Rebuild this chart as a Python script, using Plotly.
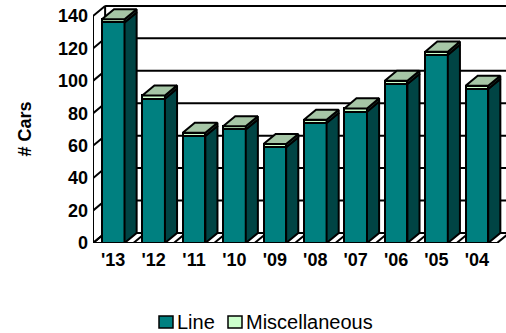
import plotly.graph_objects as go

# ---- data ----
years = ["'13", "'12", "'11", "'10", "'09", "'08", "'07", "'06", "'05", "'04"]
line_vals = [136, 89, 66, 70, 59, 74, 81, 98, 116, 95]
misc_vals = [2, 2, 2, 2, 2, 2, 2, 2, 2, 2]
y_ticks = [0, 20, 40, 60, 80, 100, 120, 140]
series_names = ["Line", "Miscellaneous"]

# ---- style ----
FONT = "Arial, Liberation Sans, sans-serif"
C_LINE = "#008080"
C_MISC = "#ccffcc"
C_SIDE = "#004444"
C_SIDE_MISC = "#2f4f3f"
C_TOP = "#a6c6a6"
BW = 0.56          # bar width (category units)
DX = 0.30          # depth offset in category units
DY = 6.2           # depth offset in value units
X_MIN, X_MAX = -0.5, 9.72
Y_MAX = 148
n = len(years)

W, H = 506, 333
ML, MR, MT, MB = 93, 0, 3, 90
PW, PH = W - ML - MR, H - MT - MB


def px_x(p):   # pixel -> paper x
    return (p - ML) / PW


def px_y(p):   # pixel -> paper y
    return (H - MB - p) / PH


fig = go.Figure()

# front faces (stacked bars)
fig.add_trace(go.Bar(x=list(range(n)), y=line_vals, width=BW, name=series_names[0],
                     showlegend=False,
                     marker=dict(color=C_LINE, line=dict(color="black", width=2))))
fig.add_trace(go.Bar(x=list(range(n)), y=misc_vals, width=BW, name=series_names[1],
                     showlegend=False,
                     marker=dict(color=C_MISC, line=dict(color="black", width=2))))

# side faces and top faces derived from data
sx, sy, mx, my, tx, ty = [], [], [], [], [], []
for i in range(n):
    lv = line_vals[i]
    tot = line_vals[i] + misc_vals[i]
    xr = i + BW / 2
    xl = i - BW / 2
    sx += [xr, xr + DX, xr + DX, xr, xr, None]
    sy += [0, DY, lv + DY, lv, 0, None]
    mx += [xr, xr + DX, xr + DX, xr, xr, None]
    my += [lv, lv + DY, tot + DY, tot, lv, None]
    tx += [xl, xr, xr + DX, xl + DX, xl, None]
    ty += [tot, tot, tot + DY, tot + DY, tot, None]

for px, py, col in [(sx, sy, C_SIDE), (mx, my, C_SIDE_MISC), (tx, ty, C_TOP)]:
    fig.add_trace(go.Scatter(x=px, y=py, mode="lines", fill="toself", fillcolor=col,
                             line=dict(color="black", width=2), showlegend=False,
                             hoverinfo="skip"))

# walls / grid
shapes = []
LW = 2
for v in y_ticks:
    shapes.append(dict(type="line", xref="x", yref="y", x0=X_MIN + DX, x1=X_MAX + 1,
                       y0=v + DY, y1=v + DY, line=dict(color="black", width=LW), layer="below"))
    shapes.append(dict(type="line", xref="x", yref="y", x0=X_MIN - 0.06, x1=X_MIN + DX,
                       y0=v - 1.3, y1=v + DY, line=dict(color="black", width=LW), layer="below"))
shapes.append(dict(type="line", xref="x", yref="y", x0=X_MIN, x1=X_MIN, y0=0, y1=y_ticks[-1],
                   line=dict(color="black", width=LW), layer="below"))
shapes.append(dict(type="line", xref="x", yref="y", x0=X_MIN + DX, x1=X_MIN + DX, y0=DY,
                   y1=y_ticks[-1] + DY, line=dict(color="black", width=LW), layer="below"))
shapes.append(dict(type="line", xref="x", yref="y", x0=X_MIN, x1=n - 0.5, y0=0, y1=0,
                   line=dict(color="black", width=LW), layer="below"))
for k in range(n + 1):
    shapes.append(dict(type="line", xref="x", yref="y", x0=k - 0.5, x1=k - 0.5 + DX,
                       y0=0, y1=DY, line=dict(color="black", width=LW), layer="below"))

# legend (boxes + labels)
annotations = [dict(text="# Cars", xref="paper", yref="paper", x=px_x(24.5), y=px_y(129),
                    xanchor="center", yanchor="middle", textangle=-90, showarrow=False,
                    font=dict(family=FONT, size=18, color="black", weight="bold"))]
legend_items = [(series_names[0], C_LINE, 159), (series_names[1], C_MISC, 228)]
for name, col, bx in legend_items:
    shapes.append(dict(type="rect", xref="paper", yref="paper",
                       x0=px_x(bx), x1=px_x(bx + 14), y0=px_y(328), y1=px_y(316),
                       fillcolor=col, line=dict(color="black", width=1.5)))
    annotations.append(dict(text=name, xref="paper", yref="paper", x=px_x(bx + 16),
                            y=px_y(321.5), xanchor="left", yanchor="middle",
                            showarrow=False,
                            font=dict(family=FONT, size=20, color="black")))

fig.update_layout(
    width=W, height=H,
    margin=dict(l=ML, r=MR, t=MT, b=MB, autoexpand=False),
    paper_bgcolor="white", plot_bgcolor="white",
    barmode="stack", bargap=0,
    shapes=shapes,
    showlegend=False,
    xaxis=dict(range=[X_MIN, X_MAX], tickvals=list(range(n)), ticktext=years,
               showgrid=False, zeroline=False, showline=False, ticks="",
               ticklabelstandoff=4, automargin=False,
               tickfont=dict(family=FONT, size=18, color="black", weight="bold")),
    yaxis=dict(range=[0, Y_MAX], tickvals=y_ticks, showgrid=False, zeroline=False,
               showline=False, ticks="", ticklabelstandoff=4, automargin=False,
               tickfont=dict(family=FONT, size=18, color="black", weight="bold")),
    annotations=annotations,
)

fig.write_html("out.html")
